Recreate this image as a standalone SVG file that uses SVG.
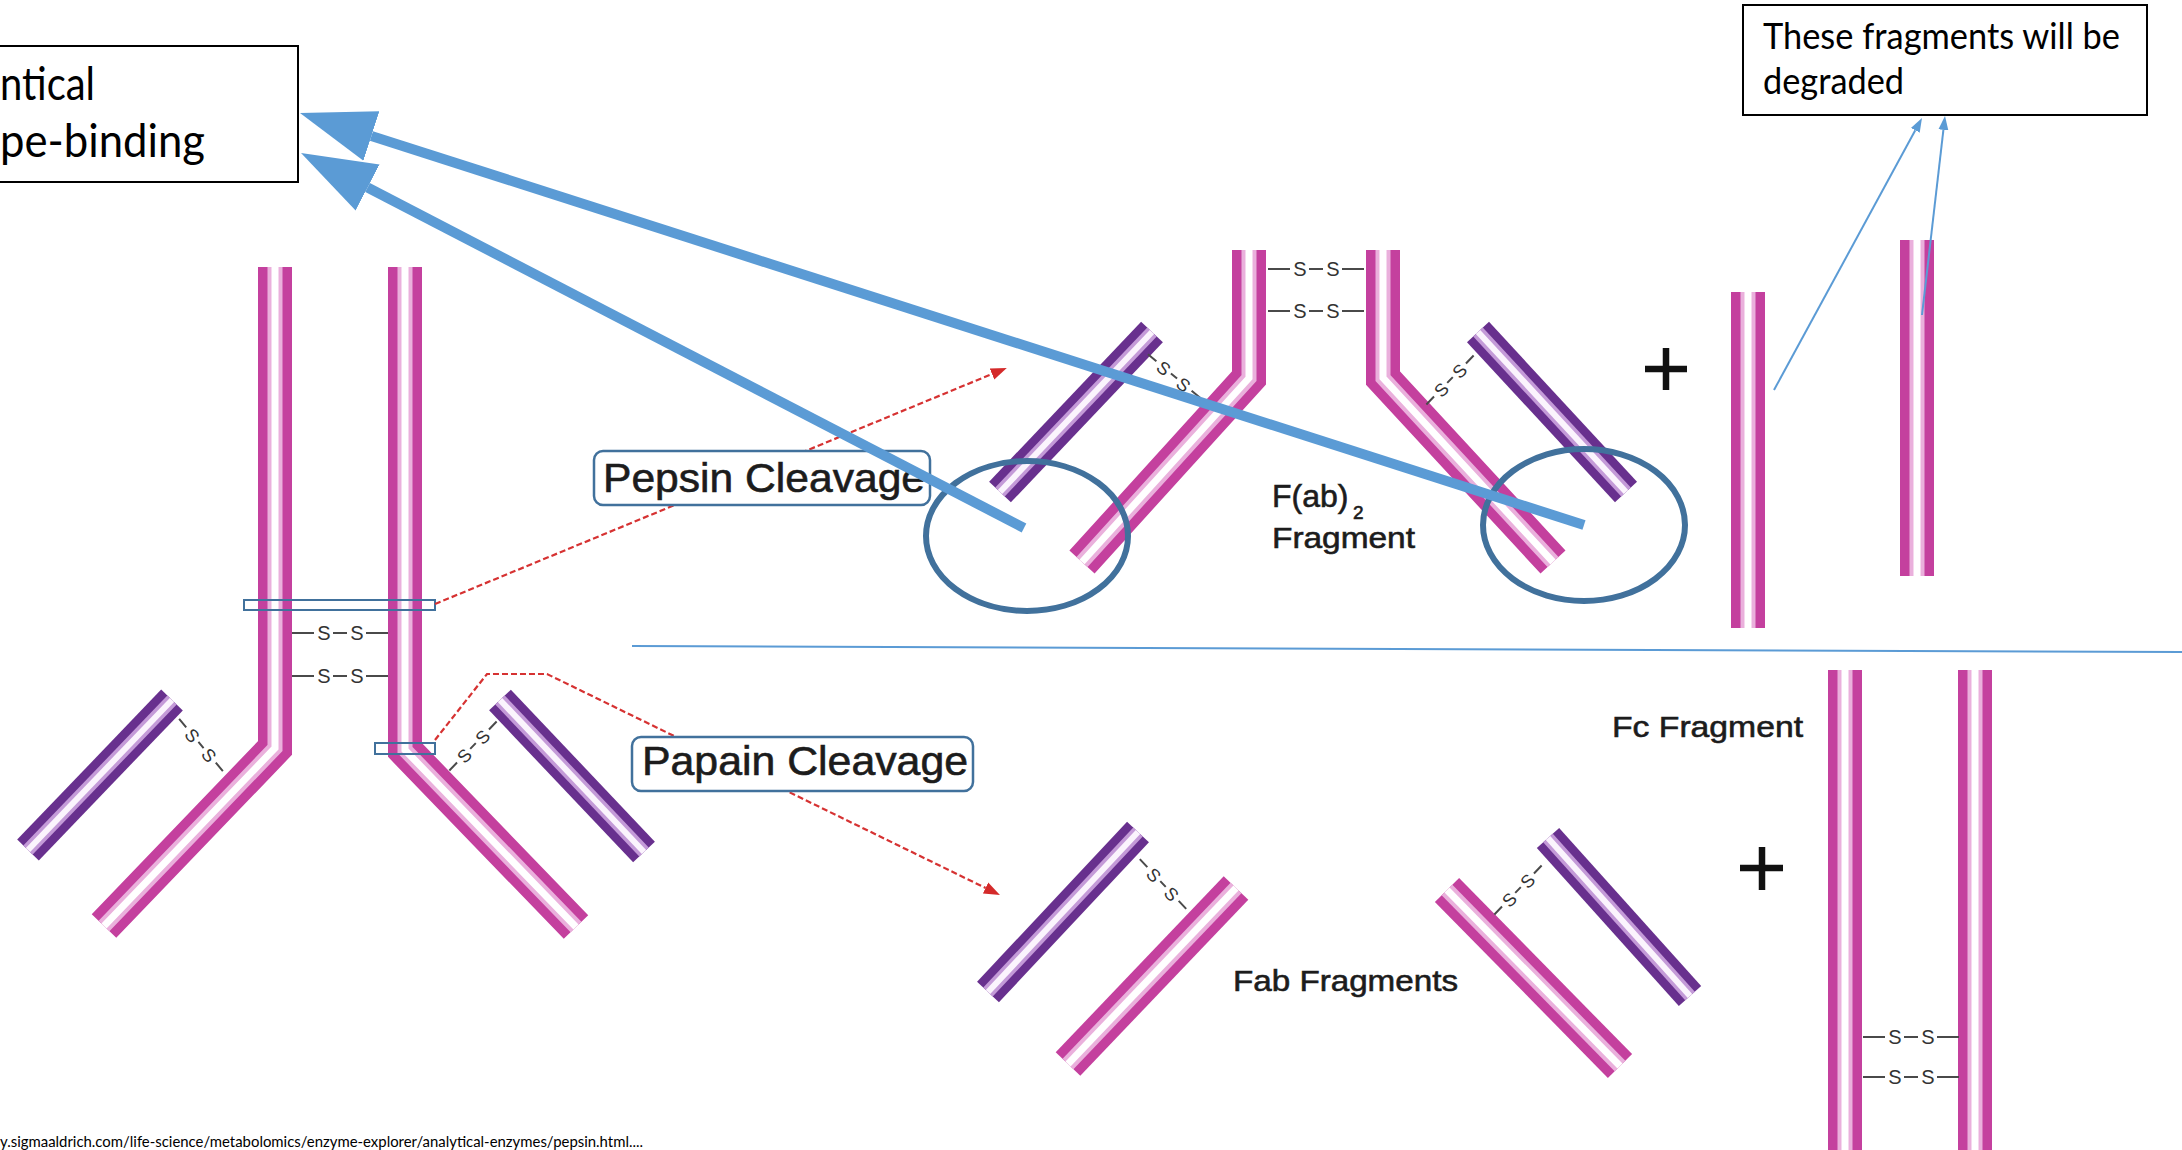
<svg xmlns="http://www.w3.org/2000/svg" xmlns:xlink="http://www.w3.org/1999/xlink" width="2182" height="1150" viewBox="0 0 2182 1150">
  <style>
    .chain { fill: none; }
    .hc .o { stroke: #c4409e; stroke-width: 34; }
    .hc .m { stroke: #eab0dc; stroke-width: 15; }
    .hc .c { stroke: #ffffff; stroke-width: 7; }
    .lc .o { stroke: #68308e; stroke-width: 30; }
    .lc .m { stroke: #c49ad8; stroke-width: 13; }
    .lc .c { stroke: #fbf4fd; stroke-width: 6; }
    .bond { stroke: #4a4a4a; stroke-width: 2; fill: none; }
    .s { font-family: "Liberation Sans", Arial, sans-serif; font-size: 20px; fill: #333; text-anchor: middle; }
    .lbl { font-family: "Liberation Sans", Arial, sans-serif; fill: #1c1c1c; stroke: #1c1c1c; stroke-width: 0.6; }
    .tag { fill: #ffffff; stroke: #41719c; stroke-width: 2.5; }
    .red { stroke: #d63232; stroke-width: 2.2; stroke-dasharray: 6 3; fill: none; }
    .plus { stroke: #111; stroke-width: 6.5; fill: none; }
    .note { fill: #ffffff; stroke: #000; stroke-width: 2; }
    .cal { font-family: Lato, "Open Sans", sans-serif; fill: #000; }
    .blue-thick { stroke: #5b9bd5; stroke-width: 10; fill: none; }
    .blue-thin { stroke: #5b9bd5; stroke-width: 2; fill: none; }
    .ring { stroke: #41719c; stroke-width: 6; fill: none; }
  </style>
  <defs>
    <!-- chain centre lines -->
    <path id="abHL" class="chain" d="M275,267 V748 L104,926"/>
    <path id="abHR" class="chain" d="M405,267 V750 L576,927"/>
    <path id="abLL" class="chain" d="M172,700 L28,850"/>
    <path id="abLR" class="chain" d="M500,700 L644,852"/>
    <path id="f2HL" class="chain" d="M1249,250 V378 L1082,562"/>
    <path id="f2HR" class="chain" d="M1383,250 V378 L1553,562"/>
    <path id="f2LL" class="chain" d="M1152,332 L1000,492"/>
    <path id="f2LR" class="chain" d="M1478,332 L1626,492"/>
    <path id="pcA" class="chain" d="M1748,292 V628"/>
    <path id="pcB" class="chain" d="M1917,240 V576"/>
    <path id="fabHL" class="chain" d="M1236,888 L1068,1064"/>
    <path id="fabLL" class="chain" d="M1138,832 L988,992"/>
    <path id="fabHR" class="chain" d="M1447,890 L1620,1066"/>
    <path id="fabLR" class="chain" d="M1548,838 L1690,996"/>
    <path id="fcL" class="chain" d="M1845,670 V1152"/>
    <path id="fcR" class="chain" d="M1975,670 V1152"/>
    <!-- disulfide bridges -->
    <g id="ssLong">
      <path class="bond" d="M-48,0 H-26 M-7,0 H7 M26,0 H48"/>
      <text class="s" x="-16" y="7">S</text>
      <text class="s" x="17" y="7">S</text>
    </g>
    <g id="ssShort">
      <path class="bond" d="M-34,0 H-23 M-4,0 H4 M23,0 H34"/>
      <text class="s" x="-13" y="7" style="font-size:18px">S</text>
      <text class="s" x="13" y="7" style="font-size:18px">S</text>
    </g>
    <marker id="bigHead" markerUnits="userSpaceOnUse" markerWidth="80" markerHeight="60" viewBox="0 -30 80 60" refX="0" refY="0" orient="auto">
      <path d="M0,-26 L75,0 L0,26 Z" fill="#5b9bd5"/>
    </marker>
    <marker id="thinHead" markerUnits="userSpaceOnUse" markerWidth="16" markerHeight="12" viewBox="0 -6 16 12" refX="0" refY="0" orient="auto">
      <path d="M0,-5 L14,0 L0,5 Z" fill="#5b9bd5"/>
    </marker>
    <marker id="redHead" markerUnits="userSpaceOnUse" markerWidth="18" markerHeight="14" viewBox="0 -7 18 14" refX="0" refY="0" orient="auto">
      <path d="M0,-6 L16,0 L0,6 Z" fill="#d42a2a"/>
    </marker>
  </defs>

  <rect width="2182" height="1150" fill="#ffffff"/>

  <!-- whole antibody -->
  <g id="antibody">
    <g id="ab-light-left" class="lc"><use href="#abLL" class="o"/><use href="#abLL" class="m"/><use href="#abLL" class="c"/></g>
    <g id="ab-light-right" class="lc"><use href="#abLR" class="o"/><use href="#abLR" class="m"/><use href="#abLR" class="c"/></g>
    <g id="ab-heavy-left" class="hc"><use href="#abHL" class="o"/><use href="#abHL" class="m"/><use href="#abHL" class="c"/></g>
    <g id="ab-heavy-right" class="hc"><use href="#abHR" class="o"/><use href="#abHR" class="m"/><use href="#abHR" class="c"/></g>
    <use href="#ssLong" transform="translate(340,633)"/>
    <use href="#ssLong" transform="translate(340,676)"/>
    <use href="#ssShort" transform="translate(201,745) rotate(50)"/>
    <use href="#ssShort" transform="translate(473,746) rotate(-46)"/>
    <rect id="pepsin-site" x="244" y="600" width="191" height="10" fill="none" stroke="#41719c" stroke-width="2"/>
    <rect id="papain-site" x="375" y="743" width="60" height="11" fill="none" stroke="#41719c" stroke-width="2"/>
  </g>

  <!-- F(ab')2 fragment -->
  <g id="fab2-fragment">
    <g class="lc"><use href="#f2LL" class="o"/><use href="#f2LL" class="m"/><use href="#f2LL" class="c"/></g>
    <g class="lc"><use href="#f2LR" class="o"/><use href="#f2LR" class="m"/><use href="#f2LR" class="c"/></g>
    <g class="hc"><use href="#f2HL" class="o"/><use href="#f2HL" class="m"/><use href="#f2HL" class="c"/></g>
    <g class="hc"><use href="#f2HR" class="o"/><use href="#f2HR" class="m"/><use href="#f2HR" class="c"/></g>
    <use href="#ssLong" transform="translate(1316,269)"/>
    <use href="#ssLong" transform="translate(1316,311)"/>
    <use href="#ssShort" transform="translate(1174,376) rotate(40)"/>
    <use href="#ssShort" transform="translate(1450,380) rotate(-46)"/>
    <text class="lbl" x="1272" y="507" font-size="32">F(ab)<tspan x="1353" y="519" font-size="19">2</tspan></text>
    <text class="lbl" x="1272" y="548" font-size="30" textLength="143" lengthAdjust="spacingAndGlyphs">Fragment</text>
  </g>

  <g id="plus-upper"><path class="plus" d="M1645,369 H1687 M1666,348 V390"/></g>

  <!-- pepsin digest remnants -->
  <g id="pepsin-remnant-a" class="hc"><use href="#pcA" class="o"/><use href="#pcA" class="m"/><use href="#pcA" class="c"/></g>
  <g id="pepsin-remnant-b" class="hc"><use href="#pcB" class="o"/><use href="#pcB" class="m"/><use href="#pcB" class="c"/></g>

  <!-- Fab fragments -->
  <g id="fab-fragments">
    <g class="lc"><use href="#fabLL" class="o"/><use href="#fabLL" class="m"/><use href="#fabLL" class="c"/></g>
    <g class="hc"><use href="#fabHL" class="o"/><use href="#fabHL" class="m"/><use href="#fabHL" class="c"/></g>
    <g class="hc"><use href="#fabHR" class="o"/><use href="#fabHR" class="m"/><use href="#fabHR" class="c"/></g>
    <g class="lc"><use href="#fabLR" class="o"/><use href="#fabLR" class="m"/><use href="#fabLR" class="c"/></g>
    <use href="#ssShort" transform="translate(1163,884) rotate(47)"/>
    <use href="#ssShort" transform="translate(1518,890) rotate(-46)"/>
    <text class="lbl" x="1233" y="991" font-size="30" textLength="225" lengthAdjust="spacingAndGlyphs">Fab Fragments</text>
  </g>

  <g id="plus-lower"><path class="plus" d="M1740,868 H1783 M1762,847 V890"/></g>

  <!-- Fc fragment -->
  <g id="fc-fragment">
    <g class="hc"><use href="#fcL" class="o"/><use href="#fcL" class="m"/><use href="#fcL" class="c"/></g>
    <g class="hc"><use href="#fcR" class="o"/><use href="#fcR" class="m"/><use href="#fcR" class="c"/></g>
    <use href="#ssLong" transform="translate(1911,1037)"/>
    <use href="#ssLong" transform="translate(1911,1077)"/>
    <text class="lbl" x="1612" y="737" font-size="30" textLength="191" lengthAdjust="spacingAndGlyphs">Fc Fragment</text>
  </g>

  <!-- connectors -->
  <g id="connectors">
    <path class="red" d="M435,604 L992,374" marker-end="url(#redHead)"/>
    <path class="red" d="M435,740 L487,674 H547 L985.6,888" marker-end="url(#redHead)"/>
  </g>

  <!-- cleavage labels -->
  <g id="label-pepsin">
    <rect class="tag" x="594" y="451" width="336" height="54" rx="9"/>
    <text class="lbl" x="603" y="492" font-size="40" textLength="322" lengthAdjust="spacingAndGlyphs">Pepsin Cleavage</text>
  </g>
  <g id="label-papain">
    <rect class="tag" x="632" y="737" width="341" height="54" rx="9"/>
    <text class="lbl" x="642" y="775" font-size="40" textLength="326" lengthAdjust="spacingAndGlyphs">Papain Cleavage</text>
  </g>

  <text id="source" class="cal" x="0" y="1147" font-size="15" textLength="643" lengthAdjust="spacingAndGlyphs">y.sigmaaldrich.com/life-science/metabolomics/enzyme-explorer/analytical-enzymes/pepsin.html....</text>

  <!-- annotations -->
  <g id="divider"><path class="blue-thin" d="M632,646 L2182,652"/></g>

  <g id="note-binding">
    <rect class="note" x="-5" y="46" width="303" height="136"/>
    <text class="cal" x="0" y="100" font-size="47" textLength="95" lengthAdjust="spacingAndGlyphs">ntical</text>
    <text class="cal" x="0" y="157" font-size="47" textLength="205" lengthAdjust="spacingAndGlyphs">pe-binding</text>
  </g>

  <g id="note-degraded">
    <rect class="note" x="1743" y="5" width="404" height="110"/>
    <text class="cal" x="1763" y="49" font-size="37" textLength="357" lengthAdjust="spacingAndGlyphs">These fragments will be</text>
    <text class="cal" x="1763" y="94" font-size="37" textLength="141" lengthAdjust="spacingAndGlyphs">degraded</text>
  </g>

  <g id="ring-left"><ellipse class="ring" cx="1027" cy="536" rx="101" ry="75"/></g>
  <g id="ring-right"><ellipse class="ring" cx="1584" cy="525" rx="101" ry="76"/></g>

  <g id="annotation-arrows">
    <path class="blue-thick" d="M1584,525 L371.4,135.9" marker-end="url(#bigHead)"/>
    <path class="blue-thick" d="M1024,528 L367.6,187.5" marker-end="url(#bigHead)"/>
    <path class="blue-thin" d="M1774,390 L1915.3,130.3" marker-end="url(#thinHead)"/>
    <path class="blue-thin" d="M1922,315 L1943.4,129.9" marker-end="url(#thinHead)"/>
  </g>
</svg>
